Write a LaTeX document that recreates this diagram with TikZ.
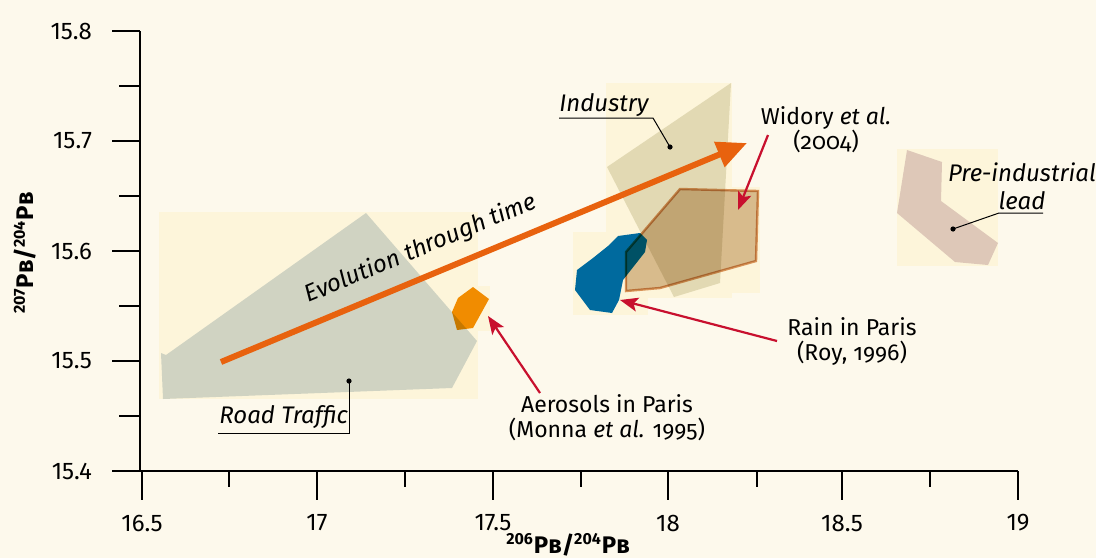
\documentclass[tikz,border=0pt]{standalone}
\usepackage{fontspec}
\setmainfont{Fira Sans}
\newfontfamily\oldnum[Numbers=OldStyle]{Fira Sans}
\usetikzlibrary{arrows.meta}

\definecolor{paper}{HTML}{FDF9EC}
\definecolor{field}{HTML}{FDF5DA}
\definecolor{roadgrey}{HTML}{D0D3C2}
\definecolor{industan}{HTML}{E2D9B3}
\definecolor{widory}{HTML}{DAC3A4}
\definecolor{widoryline}{HTML}{DA9A66}
\definecolor{rainblue}{HTML}{006A9E}
\definecolor{aeroorange}{HTML}{F39200}
\definecolor{preind}{HTML}{DEC8B8}
\definecolor{timearrow}{HTML}{E8620E}
\definecolor{pointer}{HTML}{C8102E}

\newcommand{\pbratio}[2]{\textbf{\textsuperscript{#1}P\textsc{b}/\textsuperscript{#2}P\textsc{b}}}

\tikzset{
  fieldbox/.style={fill=field},
  pointer/.style={draw=pointer, line width=1.1pt, -{Stealth[length=9pt,width=7pt,inset=2pt]}},
  leader/.style={draw=black, line width=0.5pt},
  tagtext/.style={font=\fontsize{12}{13}\selectfont\itshape, inner sep=0pt},
  reftext/.style={font=\oldnum\fontsize{11.5}{12.5}\selectfont, align=center},
  ticktext/.style={font=\fontsize{12}{13}\selectfont}
}

\begin{document}
\begin{tikzpicture}[x=0.5pt,y=-0.5pt]
  \useasboundingbox (0,0) rectangle (1096,558);
  \fill[paper] (0,0) rectangle (1096,558);

  % Light fields behind the data
  \fill[fieldbox] (159,212) rectangle (478,399);
  \fill[fieldbox] (478,286) rectangle (490,331);
  \fill[fieldbox] (606,83) rectangle (732,298);
  \fill[fieldbox] (620,187) rectangle (760,293);
  \fill[fieldbox] (573,232) rectangle (648,315);
  \fill[fieldbox] (897,149) rectangle (998,266);

  % Road traffic
  \fill[roadgrey] (161,353) -- (166,355) -- (366,213) -- (477,341) -- (452,388) -- (163,399) -- cycle;

  % Industry
  \fill[industan] (607,167) -- (731,83) -- (720,283) -- (674,297) -- cycle;

  % Rain in Paris
  \fill[rainblue] (640,233) -- (647,240) -- (645,252) -- (623,280) -- (619,300) -- (612,313)
    -- (590,310) -- (575,290) -- (577,270) -- (593,258) -- (608,246) -- (618,236) -- cycle;

  % Widory et al. and aerosols
  \begin{scope}[blend mode=multiply]
    \filldraw[fill=widory, draw=widoryline, line width=1.2pt]
      (680,189) -- (758,191) -- (756,261) -- (660,288) -- (626,291) -- (626,252) -- cycle;
    \fill[aeroorange] (473,287) -- (489,299) -- (473,328) -- (457,330) -- (452,312) -- (458,298) -- cycle;
  \end{scope}

  % Pre-industrial lead
  \fill[preind] (907,150) -- (942,162) -- (941,201) -- (998,243) -- (988,265) -- (955,262) -- (897,213) -- cycle;

  % Evolution arrow
  \coordinate (timestart) at (221,362);
  \coordinate (timeend) at (747,143);
  \draw[timearrow, line width=3pt, -{Triangle[length=15pt,width=13pt]}] (timestart) -- (timeend)
    node[pos=0.4, sloped, above=3pt, font=\fontsize{12}{13}\selectfont\itshape, text=black] (timelbl) {Evolution through time};

  % Axes
  \draw[line width=0.6pt] (140,31) -- (140,471) -- (1018,471);
  \foreach \y/\v [count=\i] in {31/15.8,141/15.7,251/15.6,361/15.5,471/15.4} {
    \draw[line width=0.6pt] (112,\y) -- (140,\y);
    \node[ticktext, anchor=east] (ytick\i) at (99,\y) {\v};
  }
  \foreach \y in {86,196,306,416}
    \draw[line width=0.6pt] (119,\y) -- (140,\y);
  \foreach \x/\v [count=\i] in {142/16.5,317/17,493/17.5,668/18,842/18.5,1018/19} {
    \draw[line width=0.6pt] (\x,471) -- (\x,500);
    \node[ticktext] (xtick\i) at (\x,523) {\v};
  }
  \foreach \x in {229,405,581,757,930}
    \draw[line width=0.6pt] (\x,471) -- (\x,487);
  \node[font=\fontsize{12}{13}\selectfont] (xname) at (568,545) {\pbratio{206}{204}};
  \node[font=\fontsize{12}{13}\selectfont, rotate=90] (yname) at (25,253) {\pbratio{207}{204}};

  % Tags with leaders
  \node[tagtext, anchor=base west] (roadlbl) at (219,423) {Road Traffic};
  \coordinate (roaddot) at (349,381);
  \coordinate (roadbend) at (349,433);
  \coordinate (roadend) at (218,433);
  \fill (roaddot) circle (2.6);
  \draw[leader] (roaddot) -- (roadbend) -- (roadend);

  \node[tagtext, anchor=base west] (induslbl) at (559,111) {Industry};
  \coordinate (indusdot) at (670,147);
  \coordinate (indusbend) at (653,118);
  \coordinate (indusend) at (559,118);
  \fill (indusdot) circle (2.6);
  \draw[leader] (indusdot) -- (indusbend) -- (indusend);

  \node[tagtext, align=center, anchor=base] (prelbl) at (1022,209) {Pre-industrial\\[1pt]lead};
  \coordinate (predot) at (953,229);
  \coordinate (prebend) at (999,213);
  \coordinate (preend) at (1043,213);
  \fill (predot) circle (2.6);
  \draw[leader] (predot) -- (prebend) -- (preend);

  % References with red pointers
  \node[reftext] (widorylbl) at (826,130) {Widory \textit{et al.}\\(2004)};
  \coordinate (widoryfrom) at (768,135);
  \coordinate (widoryto) at (738,210);
  \draw[pointer] (widoryfrom) -- (widoryto);

  \node[reftext] (rainlbl) at (852,341) {Rain in Paris\\(Roy, 1996)};
  \coordinate (rainfrom) at (777,341);
  \coordinate (rainto) at (620,300);
  \draw[pointer] (rainfrom) -- (rainto);

  \node[reftext] (aerolbl) at (607,418) {Aerosols in Paris\\(Monna \textit{et al.} 1995)};
  \coordinate (aerofrom) at (540,393);
  \coordinate (aeroto) at (488,316);
  \draw[pointer] (aerofrom) -- (aeroto);
\end{tikzpicture}
\end{document}
